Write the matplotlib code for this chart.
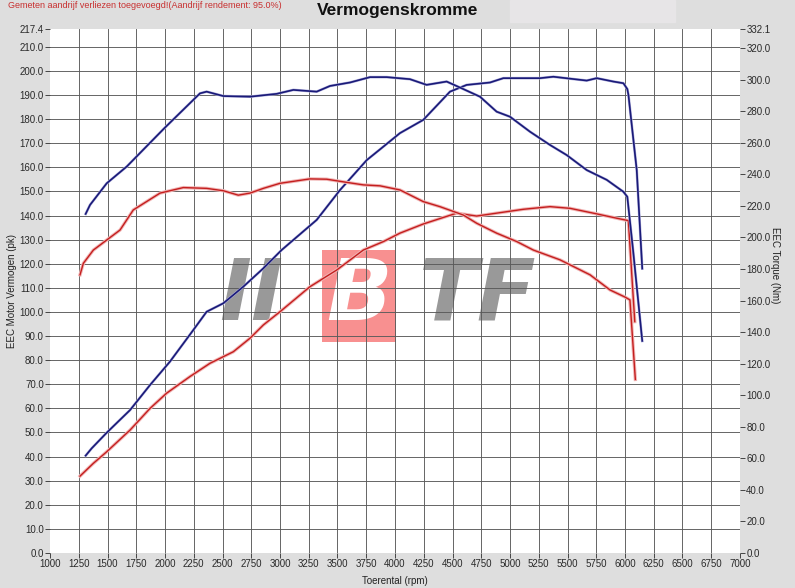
import matplotlib
matplotlib.use("Agg")
import matplotlib.pyplot as plt
import matplotlib.patheffects as pe
from matplotlib.patches import Rectangle

plt.rcParams['font.family'] = ['Liberation Sans', 'DejaVu Sans']

# tuned run (blue) - power in pk, torque in Nm
rpm_pk_tuned = [1310, 1362, 1493, 1696, 1870, 2043, 2246, 2362, 2507, 2681, 2855, 3014,
                3319, 3522, 3754, 3899, 4043, 4246, 4478, 4623, 4826, 4942, 5261, 5377,
                5667, 5754, 5899, 5986, 6020, 6030, 6102, 6150]
pk_tuned = [40.4, 43.4, 49.9, 59.3, 69.7, 79.4, 92.5, 100.1, 103.6, 110.5, 118.1, 125.7,
            138.2, 150.6, 163.0, 168.6, 174.2, 179.7, 191.4, 194.2, 195.2, 197.0, 197.0, 197.6,
            196.0, 197.0, 195.6, 194.9, 192.5, 190.0, 158.9, 118.0]

rpm_nm_tuned = [1310, 1348, 1493, 1667, 1994, 2304, 2362, 2507, 2739, 2971, 3116, 3319,
                3435, 3609, 3783, 3928, 4130, 4275, 4449, 4580, 4739, 4884, 5000, 5174,
                5348, 5493, 5667, 5841, 5985, 6020, 6070, 6150]
nm_tuned = [214.9, 220.6, 234.3, 244.9, 269.2, 291.3, 292.4, 289.6, 289.2, 291.0, 293.5, 292.4,
            296.0, 298.2, 301.6, 301.6, 300.3, 296.7, 298.8, 294.5, 289.2, 279.7, 276.5, 267.0,
            258.6, 252.2, 242.7, 236.5, 229.0, 225.8, 192.0, 134.4]

# stock run (red)
rpm_pk_stock = [1261, 1377, 1493, 1696, 1870, 2014, 2217, 2391, 2594, 2739, 2855, 3000,
                3261, 3493, 3725, 3899, 4043, 4246, 4536, 4710, 4913, 5116, 5348, 5522,
                5754, 5928, 6029, 6085]
pk_stock = [31.9, 37.2, 42.0, 51.0, 60.0, 66.3, 73.2, 78.7, 83.5, 89.1, 94.6, 100.1,
            110.5, 117.4, 125.7, 129.2, 132.7, 136.5, 141.0, 139.8, 141.2, 142.6, 143.7, 143.0,
            140.7, 138.9, 137.9, 96.0]

rpm_nm_stock = [1261, 1290, 1377, 1609, 1724, 1957, 2159, 2362, 2507, 2637, 2739, 2855,
                3000, 3261, 3406, 3580, 3725, 3870, 4043, 4246, 4391, 4594, 4710, 4884,
                5058, 5203, 5435, 5696, 5870, 6000, 6043, 6090]
nm_stock = [176.3, 183.6, 192.0, 204.7, 217.4, 228.1, 231.6, 231.1, 229.6, 226.8, 228.1, 231.1,
            234.3, 237.1, 236.9, 234.9, 233.3, 232.7, 230.1, 222.7, 219.5, 214.2, 209.0, 202.7,
            197.4, 192.0, 185.8, 176.3, 166.7, 162.2, 160.4, 110.0]

x_ticks = list(range(1000, 7001, 250))
pk_ticks = list(range(0, 211, 10)) + [217.4]
nm_ticks = list(range(0, 321, 20)) + [332.1]

BLUE = '#1a1a78'
RED = '#c41e1e'

fig = plt.figure(figsize=(7.95, 5.88), dpi=100, facecolor='#dedede')
ax = fig.add_axes([50 / 795, 1 - 553 / 588, 690 / 795, 524 / 588])
ax.set_facecolor('white')
ax2 = ax.twinx()

for a in (ax, ax2):
    for s in a.spines.values():
        s.set_visible(False)

ax.set_xlim(1000, 7000)
ax.set_ylim(0, 217.4)
ax2.set_ylim(0, 332.1)

# grid (inner lines only)
for v in x_ticks[1:-1]:
    ax.axvline(v, color='#5a5a5a', lw=0.65, zorder=1)
for v in pk_ticks[1:-1]:
    ax.axhline(v, color='#5a5a5a', lw=0.65, zorder=1)

# watermark logo
logo_kw = dict(transform=ax.transAxes, fontsize=62, fontweight='bold', style='italic',
               family='DejaVu Sans', va='center', zorder=0.5)
ax.text(0.245, 0.49, 'II', color='#999999', ha='left', **logo_kw)
ax.text(0.40, 0.49, 'B', color='white', ha='left',
        bbox=dict(facecolor='#f89090', edgecolor='none', pad=3), **logo_kw)
ax.text(0.535, 0.49, 'TF', color='#999999', ha='left', **logo_kw)

red_fx = [pe.Stroke(linewidth=2.4, foreground='#f0b4b4'), pe.Normal()]
blue_fx = [pe.Stroke(linewidth=1.9, foreground='#b0b0dc'), pe.Normal()]

ax.plot(rpm_pk_stock, pk_stock, color=RED, lw=1.0, zorder=3, path_effects=red_fx)
ax.plot(rpm_pk_tuned, pk_tuned, color=BLUE, lw=1.2, zorder=3, path_effects=blue_fx)
ax2.plot(rpm_nm_stock, nm_stock, color=RED, lw=1.0, zorder=3, path_effects=red_fx)
ax2.plot(rpm_nm_tuned, nm_tuned, color=BLUE, lw=1.2, zorder=3, path_effects=blue_fx)

ax.set_xticks(x_ticks)
ax.set_xticklabels([str(v) for v in x_ticks])
ax.set_yticks(pk_ticks)
ax.set_yticklabels(['%.1f' % v for v in pk_ticks])
ax2.set_yticks(nm_ticks)
ax2.set_yticklabels(['%.1f' % v for v in nm_ticks])

for a in (ax, ax2):
    a.tick_params(axis='both', labelsize=7, labelcolor='#2a2a2a', color='#444444',
                  length=3.5, width=0.7, pad=1)

ax.set_xlabel('Toerental (rpm)', fontsize=7, color='#222222')
ax.set_ylabel('EEC Motor Vermogen (pk)', fontsize=7, color='#222222', va='center')
ax2.set_ylabel('EEC Torque (Nm)', fontsize=7, color='#222222', rotation=270, va='center')
ax.xaxis.set_label_coords(0.5, -0.043)
ax.yaxis.set_label_coords(-38 / 690, 0.5)
ax2.yaxis.set_label_coords(1 + 35 / 690, 0.55)

fig.patches.append(Rectangle((510 / 795, 1 - 22 / 588), 165 / 795, 22 / 588,
                             transform=fig.transFigure, color='#e7e5e7', zorder=0))
fig.text(398 / 795, 1 - 10 / 588, 'Vermogenskromme', fontsize=12.5, fontweight='bold',
         ha='center', va='center', color='#111111')
fig.text(8 / 795, 1 - 6 / 588, 'Gemeten aandrijf verliezen toegevoegd!(Aandrijf rendement: 95.0%)',
         fontsize=6.5, color='#c83030', ha='left', va='center')

fig.savefig('out.png', dpi=100, facecolor=fig.get_facecolor())
